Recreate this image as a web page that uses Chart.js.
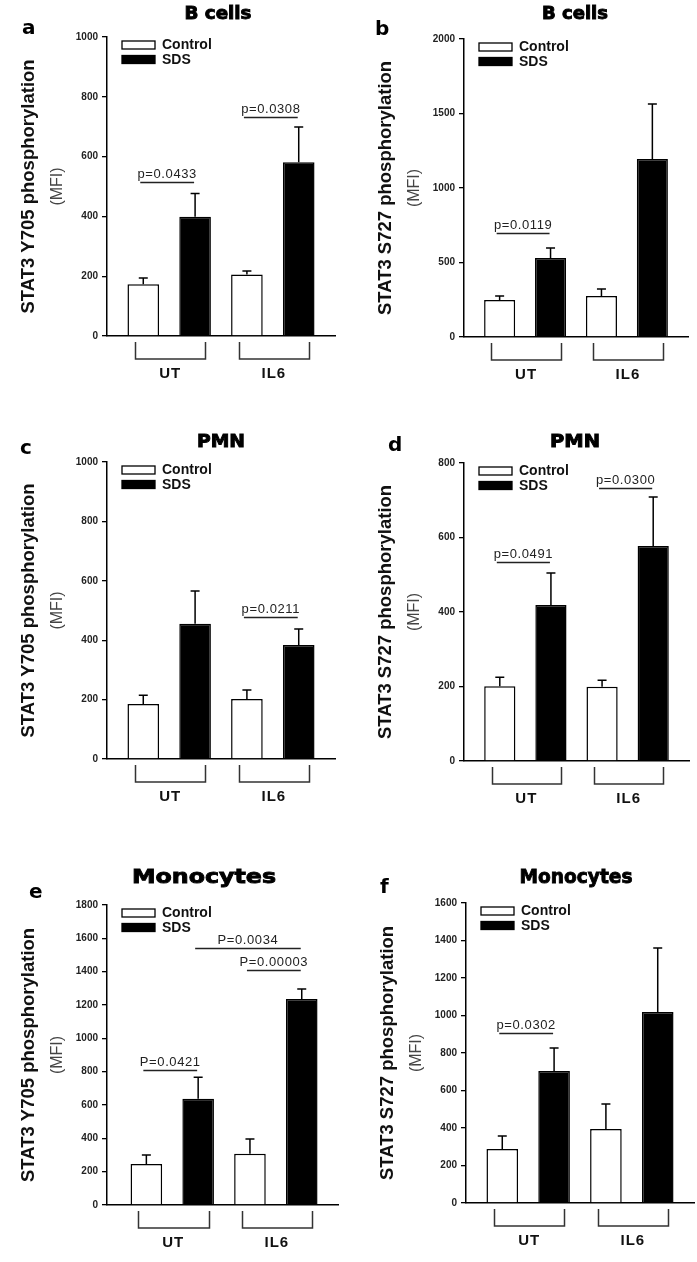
<!DOCTYPE html>
<html>
<head>
<meta charset="utf-8">
<script src="https://cdn.jsdelivr.net/npm/chart.js@4.4.0/dist/chart.umd.min.js"></script>
<style>
  body { margin: 0; background: #fff; }
  #fig { position: relative; width: 697px; height: 1262px; overflow: hidden; }
  #fig canvas { position: absolute; }
</style>
</head>
<body>
<div id="fig">
  <canvas id="pa" width="348" height="420" style="left:0;top:0"></canvas>
  <canvas id="pb" width="349" height="420" style="left:348px;top:0"></canvas>
  <canvas id="pc" width="348" height="420" style="left:0;top:420px"></canvas>
  <canvas id="pd" width="349" height="420" style="left:348px;top:420px"></canvas>
  <canvas id="pe" width="348" height="422" style="left:0;top:840px"></canvas>
  <canvas id="pf" width="349" height="422" style="left:348px;top:840px"></canvas>
</div>
<script>
// --- data ---
const groups = ['UT', 'IL6'];
const seriesNames = ['Control', 'SDS'];

// a: B cells, STAT3 Y705
const aControl = [173, 206];
const aControlSem = [21, 11];
const aSds = [399, 581];
const aSdsSem = [78, 118];
const aTicks = [1000, 200];
const aStats = [
  { label: 'p=0.0433', from: [0, 0], to: [1, 0], at: 516 },
  { label: 'p=0.0308', from: [0, 1], to: [1, 1], at: 732 }
];

// b: B cells, STAT3 S727
const bControl = [248, 275];
const bControlSem = [27, 47];
const bSds = [530, 1195];
const bSdsSem = [67, 369];
const bTicks = [2000, 500];
const bStats = [
  { label: 'p=0.0119', from: [0, 0], to: [1, 0], at: 698 }
];

// c: PMN, STAT3 Y705
const cControl = [185, 202];
const cControlSem = [30, 30];
const cSds = [455, 384];
const cSdsSem = [111, 54];
const cTicks = [1000, 200];
const cStats = [
  { label: 'p=0.0211', from: [0, 1], to: [1, 1], at: 478 }
];

// d: PMN, STAT3 S727
const dControl = [201, 199];
const dControlSem = [24, 18];
const dSds = [419, 577];
const dSdsSem = [86, 132];
const dTicks = [800, 200];
const dStats = [
  { label: 'p=0.0491', from: [0, 0], to: [1, 0], at: 534 },
  { label: 'p=0.0300', from: [0, 1], to: [1, 1], at: 733 }
];

// e: Monocytes, STAT3 Y705
const eControl = [246, 308];
const eControlSem = [54, 88];
const eSds = [638, 1236];
const eSdsSem = [128, 60];
const eTicks = [1800, 200];
const eStats = [
  { label: 'P=0.0421', from: [0, 0], to: [1, 0], at: 813 },
  { label: 'P=0.0034', from: [1, 0], to: [1, 1], at: 1542 },
  { label: 'P=0.00003', from: [0, 1], to: [1, 1], at: 1410 }
];

// f: Monocytes, STAT3 S727
const fControl = [288, 395];
const fControlSem = [69, 133];
const fSds = [704, 1019];
const fSdsSem = [123, 341];
const fTicks = [1600, 200];
const fStats = [
  { label: 'p=0.0302', from: [0, 0], to: [1, 0], at: 907 }
];

const y705 = 'STAT3 Y705 phosphorylation';
const s727 = 'STAT3 S727 phosphorylation';

// --- layout of each panel (canvas coords) ---
const panels = [
  { id: 'pa', letter: 'a', title: 'B cells', yTitle: y705, control: aControl, controlSem: aControlSem, sds: aSds, sdsSem: aSdsSem, ticks: aTicks, stats: aStats,
    area: [107, 37, 335, 336], xr: [-0.6, 1.6], head: [218, 15, 67, 17], mark: [22, 34] },
  { id: 'pb', letter: 'b', title: 'B cells', yTitle: s727, control: bControl, controlSem: bControlSem, sds: bSds, sdsSem: bSdsSem, ticks: bTicks, stats: bStats,
    area: [116, 39, 340, 337], xr: [-0.6, 1.6], head: [227, 15, 66, 17], mark: [27, 35] },
  { id: 'pc', letter: 'c', title: 'PMN', yTitle: y705, control: cControl, controlSem: cControlSem, sds: cSds, sdsSem: cSdsSem, ticks: cTicks, stats: cStats,
    area: [107, 42, 335, 339], xr: [-0.6, 1.6], head: [221, 23, 48, 17], mark: [20, 34] },
  { id: 'pd', letter: 'd', title: 'PMN', yTitle: s727, control: dControl, controlSem: dControlSem, sds: dSds, sdsSem: dSdsSem, ticks: dTicks, stats: dStats,
    area: [116, 43, 341, 341], xr: [-0.6, 1.6], head: [227, 23, 50, 17], mark: [40, 31] },
  { id: 'pe', letter: 'e', title: 'Monocytes', yTitle: y705, control: eControl, controlSem: eControlSem, sds: eSds, sdsSem: eSdsSem, ticks: eTicks, stats: eStats,
    area: [107, 65, 338, 365], xr: [-0.63, 1.6], head: [204, 38, 144, 20], mark: [29, 58] },
  { id: 'pf', letter: 'f', title: 'Monocytes', yTitle: s727, control: fControl, controlSem: fControlSem, sds: fSds, sdsSem: fSdsSem, ticks: fTicks, stats: fStats,
    area: [118, 63, 346, 363], xr: [-0.6, 1.6], head: [228, 38, 113, 20], mark: [32, 53] }
];

Chart.defaults.font.family = '"Liberation Sans", Arial, sans-serif';
Chart.defaults.color = '#222';

const Y_AXIS_W = 40;

function spaced(ctx, px) {
  if ('letterSpacing' in ctx) ctx.letterSpacing = px;
}

const extras = {
  id: 'extras',
  afterDatasetsDraw(chart) {
    const ctx = chart.ctx;
    const y = chart.scales.y;
    ctx.save();
    ctx.strokeStyle = '#000';
    ctx.lineWidth = 1.5;
    chart.data.datasets.forEach((ds, d) => {
      chart.getDatasetMeta(d).data.forEach((bar, i) => {
        const top = y.getPixelForValue(ds.data[i].y + ds.sem[i]);
        ctx.beginPath();
        ctx.moveTo(bar.x, bar.y);
        ctx.lineTo(bar.x, top);
        ctx.moveTo(bar.x - 4.5, top);
        ctx.lineTo(bar.x + 4.5, top);
        ctx.stroke();
      });
    });
    ctx.restore();
  },
  afterDraw(chart, args, opts) {
    const p = opts.panel;
    const ctx = chart.ctx;
    const area = chart.chartArea;
    const x = chart.scales.x;
    const y = chart.scales.y;
    const barX = (pos) => chart.getDatasetMeta(pos[0]).data[pos[1]].x;
    ctx.save();

    // significance lines
    ctx.strokeStyle = '#222';
    ctx.lineWidth = 1.3;
    ctx.fillStyle = '#222';
    ctx.font = '13px "Liberation Sans", Arial, sans-serif';
    ctx.textAlign = 'center';
    ctx.textBaseline = 'alphabetic';
    spaced(ctx, '0.6px');
    p.stats.forEach(s => {
      const x0 = barX(s.from) - 3;
      const x1 = barX(s.to) - 1;
      const yy = Math.round(y.getPixelForValue(s.at)) + 0.5;
      ctx.beginPath();
      ctx.moveTo(x0, yy);
      ctx.lineTo(x1, yy);
      ctx.stroke();
      ctx.fillText(s.label, (x0 + x1) / 2, yy - 5);
    });
    spaced(ctx, '0px');

    // group brackets and labels
    ctx.strokeStyle = '#333';
    ctx.lineWidth = 1.5;
    ctx.fillStyle = '#111';
    ctx.font = 'bold 15px "Liberation Sans", Arial, sans-serif';
    ctx.textBaseline = 'middle';
    groups.forEach((g, i) => {
      const xl = Math.round(x.getPixelForValue(i - 0.33)) + 0.5;
      const xr = Math.round(x.getPixelForValue(i + 0.35)) + 0.5;
      const yt = area.bottom + 6;
      const yb = area.bottom + 23;
      ctx.beginPath();
      ctx.moveTo(xl, yt);
      ctx.lineTo(xl, yb);
      ctx.lineTo(xr, yb);
      ctx.lineTo(xr, yt);
      ctx.stroke();
      spaced(ctx, '1px');
      ctx.fillText(g, x.getPixelForValue(i) + 1, area.bottom + 38);
      spaced(ctx, '0px');
    });

    // legend
    ctx.textAlign = 'left';
    ctx.font = 'bold 14px "Liberation Sans", Arial, sans-serif';
    chart.data.datasets.forEach((ds, d) => {
      const bx = area.left + 15;
      const by = area.top + 4 + d * 14.5;
      ctx.fillStyle = ds.backgroundColor;
      ctx.fillRect(bx, by, 33, 8);
      ctx.strokeStyle = '#000';
      ctx.lineWidth = 1.3;
      ctx.strokeRect(bx, by, 33, 8);
      ctx.fillStyle = '#111';
      ctx.fillText(ds.label, bx + 40, by + 4.5);
    });

    // axis titles
    const mid = (area.top + area.bottom) / 2;
    ctx.textAlign = 'center';
    ctx.save();
    ctx.translate(area.left - 78, mid);
    ctx.rotate(-Math.PI / 2);
    ctx.fillStyle = '#111';
    ctx.font = 'bold 18.5px "Liberation Sans", Arial, sans-serif';
    ctx.fillText(p.yTitle, 0, 0);
    ctx.restore();
    ctx.save();
    ctx.translate(area.left - 49, mid);
    ctx.rotate(-Math.PI / 2);
    ctx.fillStyle = '#444';
    ctx.font = '16px "Liberation Sans", Arial, sans-serif';
    ctx.fillText('(MFI)', 0, 0);
    ctx.restore();

    // panel title, stretched to the width seen in the figure
    const [hx, hy, hw, hs] = p.head;
    ctx.font = `bold ${hs}px "DejaVu Sans", sans-serif`;
    ctx.textBaseline = 'middle';
    const tw = ctx.measureText(p.title).width;
    ctx.save();
    ctx.translate(hx, hy);
    ctx.scale(hw / tw, 1);
    ctx.fillStyle = '#000';
    ctx.strokeStyle = '#000';
    ctx.lineWidth = 0.9;
    ctx.fillText(p.title, 0, 0);
    ctx.strokeText(p.title, 0, 0);
    ctx.restore();

    // panel letter
    ctx.textAlign = 'left';
    ctx.textBaseline = 'alphabetic';
    ctx.font = 'bold 20px "DejaVu Sans", sans-serif';
    ctx.fillStyle = '#000';
    ctx.fillText(p.letter, p.mark[0], p.mark[1]);

    ctx.restore();
  }
};

function points(values) {
  return values.map((v, i) => ({ x: i, y: v }));
}

panels.forEach(p => {
  const canvas = document.getElementById(p.id);
  const [l, t, r, b] = p.area;
  new Chart(canvas, {
    type: 'bar',
    data: {
      datasets: [
        { label: seriesNames[0], data: points(p.control), sem: p.controlSem,
          backgroundColor: '#fff', borderColor: '#000', borderWidth: 1.5 },
        { label: seriesNames[1], data: points(p.sds), sem: p.sdsSem,
          backgroundColor: '#000', borderColor: '#000', borderWidth: 1.5 }
      ]
    },
    options: {
      responsive: false,
      animation: false,
      devicePixelRatio: 1,
      barPercentage: 0.61,
      categoryPercentage: 1,
      layout: {
        padding: { left: l - Y_AXIS_W, top: t, right: canvas.width - r, bottom: canvas.height - b }
      },
      scales: {
        x: {
          type: 'linear',
          min: p.xr[0],
          max: p.xr[1],
          offset: false,
          afterBuildTicks: s => { s.ticks = groups.map((g, i) => ({ value: i })); },
          ticks: { display: false },
          grid: { display: false },
          border: { display: true, color: '#000', width: 1.5 },
          afterFit: s => { s.height = 0; }
        },
        y: {
          min: 0,
          max: p.ticks[0],
          ticks: {
            stepSize: p.ticks[1],
            color: '#222',
            padding: 4,
            font: { size: 10, weight: 'bold' },
            callback: v => String(v)
          },
          grid: { display: true, drawOnChartArea: false, drawTicks: true, tickLength: 5, color: '#000', lineWidth: 1.3 },
          border: { display: true, color: '#000', width: 1.5 },
          afterFit: s => { s.width = Y_AXIS_W; }
        }
      },
      plugins: {
        legend: { display: false },
        tooltip: { enabled: false },
        extras: { panel: p }
      }
    },
    plugins: [extras]
  });
});
</script>
</body>
</html>
